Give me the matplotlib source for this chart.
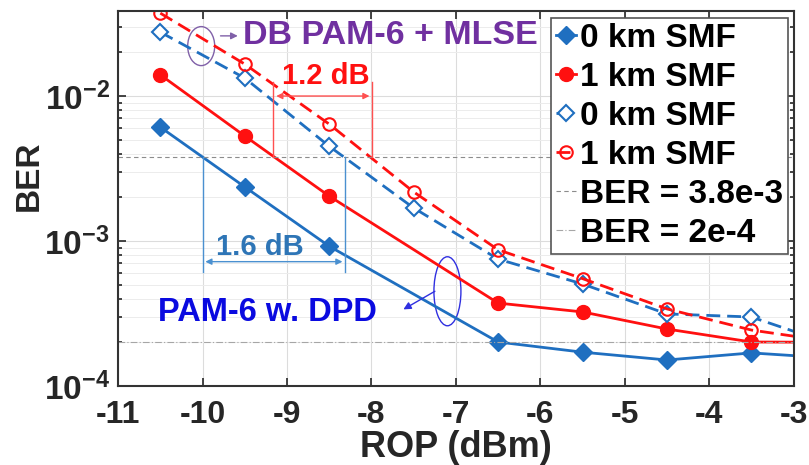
import numpy as np
import matplotlib
matplotlib.use('Agg')
import matplotlib.pyplot as plt
from matplotlib.patches import Ellipse
from matplotlib.transforms import ScaledTranslation

plt.rcParams['font.family'] = ['Liberation Sans', 'DejaVu Sans']
plt.rcParams['font.weight'] = 'bold'
plt.rcParams['axes.unicode_minus'] = False
plt.rcParams['mathtext.fontset'] = 'custom'
plt.rcParams['mathtext.rm'] = 'Liberation Sans:bold'
plt.rcParams['mathtext.bf'] = 'Liberation Sans:bold'
plt.rcParams['mathtext.default'] = 'bf'

# data
rop_dpd = [-10.5, -9.5, -8.5, -6.5, -5.5, -4.5, -3.5, -2.5]
ber_dpd_0km = [6.1e-3, 2.36e-3, 9.2e-4, 2.01e-4, 1.71e-4, 1.51e-4, 1.69e-4, 1.55e-4]
ber_dpd_1km = [1.40e-2, 5.3e-3, 2.04e-3, 3.73e-4, 3.24e-4, 2.47e-4, 2.01e-4, 2.0e-4]

rop_mlse = [-10.5, -9.5, -8.5, -7.5, -6.5, -5.5, -4.5, -3.5, -2.5]
ber_mlse_0km = [2.76e-2, 1.33e-2, 4.5e-3, 1.69e-3, 7.5e-4, 5.05e-4, 3.14e-4, 2.99e-4, 1.9e-4]
ber_mlse_1km = [3.73e-2, 1.66e-2, 6.4e-3, 2.18e-3, 8.7e-4, 5.5e-4, 3.4e-4, 2.43e-4, 2.0e-4]

fec_hd = 3.8e-3
fec_low = 2e-4

blue = '#1f6fc0'
red = '#ff1010'

fig = plt.figure(figsize=(8.09, 4.65), dpi=100)
ax = fig.add_axes([0.146, 0.170, 0.835, 0.806])

ax.plot(rop_dpd, ber_dpd_0km, '-D', color=blue, lw=2, ms=9, label='0 km SMF')
ax.plot(rop_dpd, ber_dpd_1km, '-o', color=red, lw=2, ms=10, label='1 km SMF')
ax.plot(rop_mlse, ber_mlse_0km, '--D', color=blue, lw=2, ms=8, mfc='white', mew=1.5,
        dashes=(5, 2.5), label='0 km SMF')
ax.plot(rop_mlse, ber_mlse_1km, '--o', color=red, lw=2, ms=9, mfc='none', mew=1.5,
        dashes=(5, 2.5), label='1 km SMF')
ax.axhline(fec_hd, color='#8c8c8c', lw=0.8, ls=(0, (4, 3)), label='BER = 3.8e-3')
ax.axhline(fec_low, color='#a6a6a6', lw=0.8, ls=(0, (6, 2, 1, 2)), label='BER = 2e-4')

ax.set_yscale('log')
ax.set_xlim(-11, -3)
ax.set_ylim(1e-4, 0.0385)
ax.set_xticks(range(-11, -2))
ax.set_yticks([1e-4, 1e-3, 1e-2])
ax.grid(True, which='major', color='#dcdcdc', lw=0.8)
ax.grid(True, which='minor', color='#ececec', lw=0.7)
ax.set_axisbelow(True)
ax.tick_params(which='both', direction='in', top=True, right=True,
               colors='#262626', width=1.2)
ax.tick_params(axis='x', labelsize=23, pad=10)
ax.tick_params(axis='y', labelsize=24, pad=6)
ax.tick_params(which='major', length=6)
ax.tick_params(which='minor', length=3)
for s in ax.spines.values():
    s.set_color('#333333')
    s.set_linewidth(1.5)
for lab in ax.get_xticklabels():
    lab.set_fontweight('bold')
ax.set_xlabel('ROP (dBm)', fontsize=26, fontweight='bold', color='#262626', labelpad=0)
ax.set_ylabel('BER', fontsize=24, fontweight='bold', color='#262626')
ax.yaxis.set_label_coords(-0.108, 0.56)

leg = ax.legend(loc='upper right', bbox_to_anchor=(788 / 809, 1 - 18 / 465),
                bbox_transform=fig.transFigure, borderaxespad=0, fontsize=24,
                handlelength=0.6, handletextpad=0.12, labelspacing=0.24,
                borderpad=0.15, fancybox=False, framealpha=1, edgecolor='#555555')
leg.get_frame().set_linewidth(1.2)

# brackets for the power penalty
lc_red = '#ff5050'
ax.plot([-9.16, -9.16], [fec_hd, 1.25e-2], color=lc_red, lw=1)
ax.plot([-7.99, -7.99], [fec_hd, 1.25e-2], color=lc_red, lw=1)
ax.annotate('', xy=(-7.99, 1e-2), xytext=(-9.16, 1e-2),
            arrowprops=dict(arrowstyle='<|-|>', color=lc_red, lw=1, mutation_scale=9))
ax.text(-8.54, 1.37e-2, '1.2 dB', color=red, fontsize=21, fontweight='bold',
        ha='center', va='center')

lc_blue = '#4a90d0'
ax.plot([-10, -10], [fec_hd, 6.1e-4], color=lc_blue, lw=1)
ax.plot([-8.31, -8.31], [fec_hd, 6.1e-4], color=lc_blue, lw=1)
ax.annotate('', xy=(-8.31, 7.2e-4), xytext=(-10, 7.2e-4),
            arrowprops=dict(arrowstyle='<|-|>', color=lc_blue, lw=1, mutation_scale=9))
ax.text(-9.32, 9.1e-4, '1.6 dB', color='#2e75b6', fontsize=21, fontweight='bold',
        ha='center', va='center')

# ellipses and labels
purple = '#7030a0'
tr = fig.dpi_scale_trans + ScaledTranslation(-10.016, 2.21e-2, ax.transData)
ax.add_patch(Ellipse((0, 0), 0.27, 0.39, transform=tr, fill=False,
                     ec='#8060a8', lw=1))
ax.annotate('', xy=(-9.55, 2.6e-2), xytext=(-9.82, 2.6e-2),
            arrowprops=dict(arrowstyle='-|>', color='#8060a8', lw=1, mutation_scale=10))
ax.text(-9.52, 2.6e-2, 'DB PAM-6 + MLSE', color=purple, fontsize=24.5,
        fontweight='bold', ha='left', va='center')

tr2 = fig.dpi_scale_trans + ScaledTranslation(-7.10, 4.5e-4, ax.transData)
ax.add_patch(Ellipse((0, 0), 0.27, 0.69, transform=tr2, fill=False,
                     ec='#3030e0', lw=1))
ax.annotate('', xy=(-7.65, 3.3e-4), xytext=(-7.22, 4.6e-4),
            arrowprops=dict(arrowstyle='-|>', color='#3030e0', lw=1, mutation_scale=11))
ax.text(-9.23, 3.23e-4, 'PAM-6 w. DPD', color='#0a0ae0', fontsize=23.5,
        fontweight='bold', ha='center', va='center')

fig.savefig('out.png', dpi=100)
